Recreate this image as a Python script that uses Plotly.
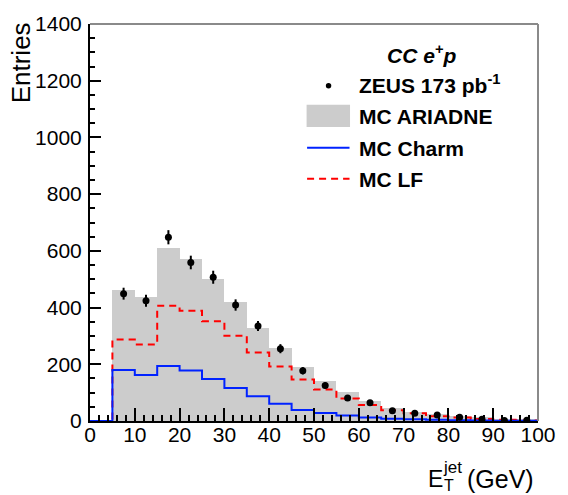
import plotly.graph_objects as go

# ---- data ----
bin_low = [0, 5, 10, 15, 20, 25, 30, 35, 40, 45, 50, 55, 60, 65, 70, 75, 80, 85, 90, 95]
bin_width = 5
mc_ariadne = [0, 463, 437, 611, 573, 501, 420, 328, 256, 192, 142, 102, 69, 47, 32, 24, 17, 13, 8, 6]
mc_lf      = [0, 287, 270, 406, 389, 352, 301, 242, 192, 146, 111, 79, 56, 38, 27, 17, 12, 7, 4, 2]
mc_charm   = [0, 180, 162, 194, 178, 148, 116, 87, 61, 39, 28, 19, 12, 8, 6, 4, 3, 2, 1, 1]
data_low   = [5, 10, 15, 20, 25, 30, 35, 40, 45, 50, 55, 60, 65, 70, 75, 80, 85, 90, 95]
zeus_data  = [449, 424, 648, 559, 507, 409, 335, 255, 177, 125, 81, 64, 36, 27, 21, 13, 6, 2, 3]
zeus_err   = [21, 21, 25, 24, 23, 20, 18, 16, 13, 11, 9, 8, 6, 5, 5, 4, 2.5, 1.5, 1.7]

FONT = "Liberation Sans"
W, H = 568, 495
L, R, T, B = 90, 24, 18, 74
PW, PH = W - L - R, H - T - B


def px(x):
    return (x - L) / PW


def py(y):
    return (H - B - y) / PH


def step_xy(vals):
    xs = bin_low + [bin_low[-1] + bin_width]
    ys = vals + [vals[-1]]
    return xs, ys


fig = go.Figure()

# MC ARIADNE filled histogram
fig.add_trace(go.Bar(
    x=[b + bin_width / 2 for b in bin_low], y=mc_ariadne, width=bin_width,
    marker=dict(color="#cccccc", line=dict(width=0)), showlegend=False,
    hoverinfo="skip"))

# MC LF (red dashed)
xs, ys = step_xy(mc_lf)
fig.add_trace(go.Scatter(x=xs, y=ys, mode="lines", line_shape="hv",
                         line=dict(color="#ff0000", width=2, dash="7px,5px"),
                         showlegend=False))
# MC Charm (blue)
xs, ys = step_xy(mc_charm)
fig.add_trace(go.Scatter(x=xs, y=ys, mode="lines", line_shape="hv",
                         line=dict(color="#0022ff", width=2),
                         showlegend=False))
# ZEUS data
fig.add_trace(go.Scatter(
    x=[b + bin_width / 2 for b in data_low], y=zeus_data, mode="markers",
    marker=dict(color="black", size=7),
    error_y=dict(type="data", array=zeus_err, width=0, thickness=2, color="black"),
    showlegend=False))

axis_common = dict(showgrid=False, zeroline=False, showline=True, linecolor="black",
                   linewidth=2, ticks="inside", tickcolor="black", tickwidth=1.5,
                   tickfont=dict(family=FONT, size=21, color="black"),
                   layer="above traces")

fig.update_xaxes(range=[0, 100], dtick=10, tick0=0, ticklen=13,
                 minor=dict(dtick=2, ticks="inside", ticklen=6, tickcolor="black", tickwidth=1.5),
                 ticklabelstandoff=-6,
                 **axis_common)
fig.update_yaxes(range=[0, 1400], dtick=200, tick0=0, ticklen=11,
                 minor=dict(dtick=50, ticks="inside", ticklen=5, tickcolor="black", tickwidth=1.5),
                 ticklabelstandoff=2,
                 **axis_common)

shapes = [
    # top and right frame
    dict(type="line", xref="paper", yref="paper", x0=0, x1=1, y0=1, y1=1,
         line=dict(color="#8a8a8a", width=2)),
    dict(type="line", xref="paper", yref="paper", x0=1, x1=1, y0=0, y1=1,
         line=dict(color="#8a8a8a", width=2)),
    # legend symbols
    dict(type="rect", xref="paper", yref="paper", x0=px(309.5), x1=px(353.5),
         y0=py(122.5), y1=py(100), fillcolor="#cccccc", line=dict(width=0)),
    dict(type="line", xref="paper", yref="paper", x0=px(310), x1=px(353),
         y0=py(143.5), y1=py(143.5), line=dict(color="#0022ff", width=2)),
    dict(type="line", xref="paper", yref="paper", x0=px(310), x1=px(353),
         y0=py(175), y1=py(175), line=dict(color="#ff0000", width=2, dash="7px,5px")),
    dict(type="circle", xref="paper", yref="paper", x0=px(329), x1=px(334.5),
         y0=py(83.5), y1=py(78), fillcolor="black", line=dict(width=0)),
]

leg_font = dict(family=FONT, size=21, color="black")
ann = [
    dict(text="<b><i>CC e<sup>+</sup>p</i></b>", x=px(426), y=py(48), xanchor="center",
         yanchor="middle", font=leg_font),
    dict(text="<b>ZEUS 173 pb<sup>-1</sup></b>", x=px(362), y=py(79), xanchor="left",
         yanchor="middle", font=leg_font),
    dict(text="<b>MC ARIADNE</b>", x=px(362), y=py(112), xanchor="left",
         yanchor="middle", font=leg_font),
    dict(text="<b>MC Charm</b>", x=px(362), y=py(144), xanchor="left",
         yanchor="middle", font=leg_font),
    dict(text="<b>MC LF</b>", x=px(362), y=py(176), xanchor="left",
         yanchor="middle", font=leg_font),
    # axis titles
    dict(text="Entries", x=px(21), y=py(57), xanchor="center", yanchor="middle",
         textangle=-90, font=dict(family=FONT, size=26, color="black")),
    dict(text="E", x=px(432), y=py(480), xanchor="left", yanchor="middle",
         font=dict(family=FONT, size=23, color="black")),
    dict(text="T", x=px(447.5), y=py(486), xanchor="left", yanchor="middle",
         font=dict(family=FONT, size=16, color="black")),
    dict(text="jet", x=px(446.5), y=py(468), xanchor="left", yanchor="middle",
         font=dict(family=FONT, size=17, color="black")),
    dict(text="(GeV)", x=px(471), y=py(480), xanchor="left", yanchor="middle",
         font=dict(family=FONT, size=25, color="black")),
]
for a in ann:
    a.update(xref="paper", yref="paper", showarrow=False, borderpad=0)

fig.update_layout(
    width=W, height=H, margin=dict(l=L, r=R, t=T, b=B),
    paper_bgcolor="white", plot_bgcolor="white",
    bargap=0, showlegend=False, shapes=shapes, annotations=ann,
    font=dict(family=FONT, color="black"),
)

fig.write_html("out.html")
